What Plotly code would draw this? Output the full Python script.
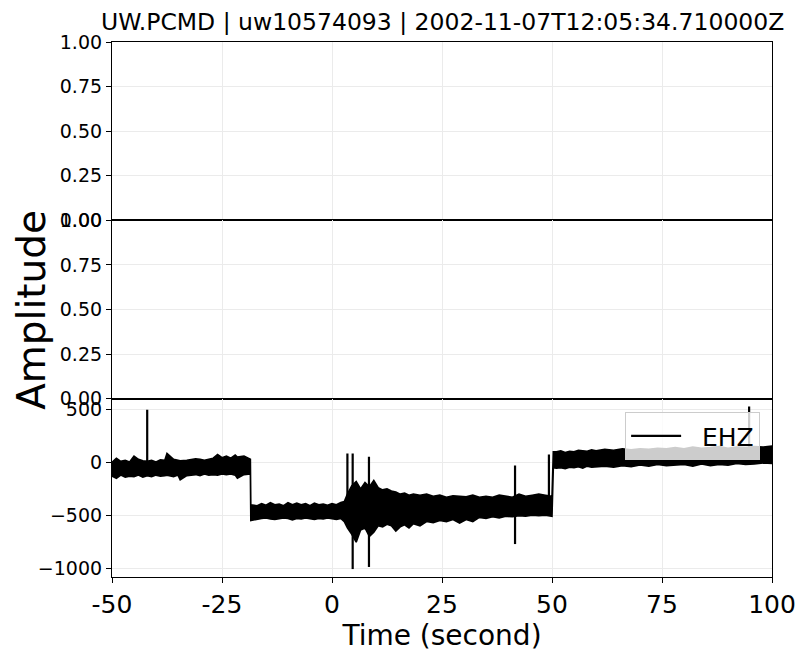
import plotly.graph_objects as go

# ---- data ----
env_t = [-50, -49, -48, -47, -46, -45, -44, -43, -42, -41, -40, -39, -38, -37.5, -36, -35, -34.5, -33, -32, -31,
         -30, -29, -28, -27, -26, -25, -24, -23, -22, -21.5, -20, -19, -18.55,
         -18.45, -17, -16, -15, -14, -13, -12, -11, -10, -9, -8, -7, -6, -5, -4, -3, -2, -1, 0, 1, 2, 2.8,
         3.5, 4.5, 5.5, 6.5, 7.5, 8.5, 9.5, 10.5, 11.5, 12.5, 13.5, 14.5, 15.5, 16.5, 17.5, 18.5, 20, 21.5, 23,
         24.5, 26, 27.5, 29, 30.5, 32, 33.5, 35, 36.5, 38, 39.5, 41, 42.5, 44, 45.5, 47, 48.5, 50.0,
         50.3, 51, 52, 53, 54, 55, 56, 57, 58, 59, 60, 62, 64, 66, 68, 70, 72, 74, 76, 78, 80, 82, 84, 86, 88,
         90, 92, 94, 96, 98, 100]
env_hi = [0, 40, 10, 20, 5, 60, 30, 15, 10, 20, 5, 25, 20, 85, 30, 20, 15, 20, 25, 35,
          30, 20, 30, 40, 75, 45, 60, 40, 70, 50, 60, 35, 30,
          -400, -410, -390, -405, -380, -400, -395, -410, -380, -400, -385, -400, -390, -410, -385, -400, -395, -405, -390, -400, -380, -370,
          -300, -220, -180, -250, -190, -230, -170, -240, -260, -250, -270, -280, -300, -290, -310, -300, -310, -300, -320,
          -310, -330, -315, -320, -325, -310, -330, -320, -330, -310, -320, -330, -300, -320, -310, -300, -310, -320,
          100, 100, 110, 95, 105, 100, 115, 110, 105, 120, 110, 125, 115, 130, 120, 130, 125, 135, 130, 140, 130, 145, 135, 140, 150,
          135, 145, 140, 150, 145, 155]
env_lo = [-130, -150, -120, -140, -130, -135, -120, -140, -125, -135, -120, -130, -125, -120, -135, -120, -165, -125, -120, -115,
          -125, -110, -120, -115, -120, -110, -115, -110, -120, -150, -115, -110, -110,
          -550, -540, -530, -525, -535, -540, -530, -525, -530, -545, -530, -535, -525, -530, -540, -530, -535, -525, -530, -540, -530, -560,
          -620, -680, -755, -640, -620, -700, -660, -600, -610, -585, -600, -650, -610, -590, -620, -580, -600, -560, -570,
          -550, -560, -540, -575, -540, -560, -520, -530, -515, -525, -510, -515, -505, -510, -500, -505, -500, -510,
          -50, -55, -50, -60, -45, -50, -40, -55, -35, -45, -40, -35, -45, -30, -40, -25, -35, -20, -30, -25, -20, -35, -15, -30, -20,
          -25, -10, -20, -15, -5, -10]

spike_t = [-42.0, 3.5, 4.7, 8.4, 41.6, 49.3, 94.8]
spike_top = [500, 85, 85, 55, -28, 75, 530]
spike_bot = [-60, -450, -1010, -990, -773, -450, 80]

x_ticks = [-50, -25, 0, 25, 50, 75, 100]
x_labels = ["-50", "-25", "0", "25", "50", "75", "100"]
amp_ticks = [0, 0.25, 0.5, 0.75, 1.0]
amp_labels = ["0.00", "0.25", "0.50", "0.75", "1.00"]
ehz_ticks = [-1000, -500, 0, 500]
ehz_labels = ["\u22121000", "\u2212500", "0", "500"]

FONT = "DejaVu Sans"

fig = go.Figure()

# empty upper panels
for xa, ya in (("x", "y"), ("x2", "y2")):
    fig.add_trace(go.Scatter(x=[None], y=[None], mode="lines", showlegend=False,
                             hoverinfo="skip", xaxis=xa, yaxis=ya))

# band (envelope polygon)
fig.add_trace(go.Scatter(
    x=env_t + env_t[::-1], y=env_hi + env_lo[::-1],
    fill="toself", fillcolor="black", mode="lines",
    line=dict(color="black", width=1.6), showlegend=False, hoverinfo="skip",
    xaxis="x3", yaxis="y3"))

# spikes
sx, sy = [], []
for t, a, b in zip(spike_t, spike_top, spike_bot):
    sx += [t, t, None]
    sy += [b, a, None]
fig.add_trace(go.Scatter(x=sx, y=sy, mode="lines", name="\u00a0\u00a0EHZ",
                         line=dict(color="black", width=2.2),
                         xaxis="x3", yaxis="y3"))

grid = "#ebebeb"
common_x = dict(range=[-50, 100], showline=True, mirror=True, linecolor="black", linewidth=1.2,
                showgrid=True, gridcolor=grid, gridwidth=1, tickvals=x_ticks, zeroline=False,
                automargin=False)
common_y = dict(showline=True, mirror=True, linecolor="black", linewidth=1.2,
                showgrid=True, gridcolor=grid, gridwidth=1, zeroline=False,
                ticks="outside", ticklen=5, tickcolor="black", automargin=False,
                tickfont=dict(family=FONT, size=19, color="black"))

fig.update_layout(
    width=804, height=659,
    margin=dict(l=112, r=32, t=42, b=82),
    paper_bgcolor="white", plot_bgcolor="white",
    font=dict(family=FONT, color="black"),
    xaxis=dict(common_x, domain=[0, 1], anchor="y", showticklabels=False, ticks=""),
    yaxis=dict(common_y, domain=[2/3, 1], range=[0, 1], tickvals=amp_ticks, ticktext=amp_labels, anchor="x"),
    xaxis2=dict(common_x, domain=[0, 1], anchor="y2", showticklabels=False, ticks=""),
    yaxis2=dict(common_y, domain=[1/3, 2/3], range=[0, 1], tickvals=amp_ticks, ticktext=amp_labels, anchor="x2"),
    xaxis3=dict(common_x, domain=[0, 1], anchor="y3", ticktext=x_labels, ticks="outside", ticklen=5,
                tickcolor="black", tickfont=dict(family=FONT, size=25, color="black"),
                title=dict(text="Time (second)", font=dict(family=FONT, size=28, color="black"), standoff=6)),
    yaxis3=dict(common_y, domain=[0, 1/3], range=[-1085, 604], tickvals=ehz_ticks, ticktext=ehz_labels, anchor="x3"),
    legend=dict(x=0.982, y=0.308, xanchor="right", yanchor="top", itemwidth=50,
                bgcolor="rgba(255,255,255,0.8)", bordercolor="#cccccc", borderwidth=1,
                font=dict(family=FONT, size=25, color="black")),
    annotations=[
        dict(text="UW.PCMD | uw10574093 | 2002-11-07T12:05:34.710000Z", xref="paper", yref="paper",
             x=0.5, y=1, xanchor="center", yanchor="bottom", yshift=4, showarrow=False,
             font=dict(family=FONT, size=23.5, color="black")),
        dict(text="Amplitude", xref="paper", yref="paper", x=-0.123, y=0.499, xanchor="center",
             yanchor="middle", textangle=-90, showarrow=False,
             font=dict(family=FONT, size=39, color="black")),
    ],
)

fig.write_html("out.html")
